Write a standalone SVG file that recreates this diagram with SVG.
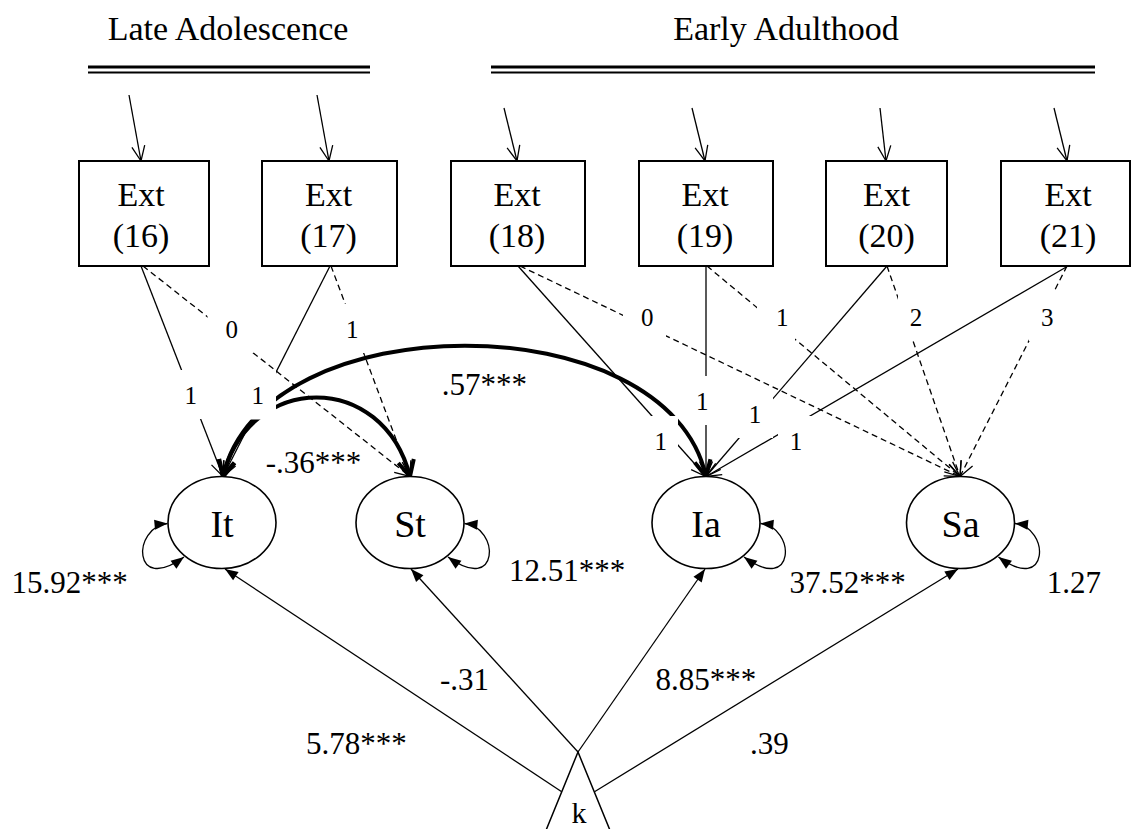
<svg xmlns="http://www.w3.org/2000/svg" width="1131" height="829" viewBox="0 0 1131 829">
<style>
text{font-family:"Liberation Serif","Times New Roman",serif;fill:#000}
.hdr{font-size:34px;text-anchor:middle}
.box{fill:#fff;stroke:#000;stroke-width:2}
.bt{font-size:34px;text-anchor:middle}
.lat{fill:#fff;stroke:#000;stroke-width:1.6}
.lt{font-size:38px;text-anchor:middle}
.ln{fill:none;stroke:#000;stroke-width:1.3}
.ds{stroke-dasharray:6 4}
.thick{fill:none;stroke:#000;stroke-width:4}
.mask{fill:#fff}
.lbl{font-size:25px;text-anchor:middle}
.est{font-size:31px}
.dbl{stroke:#000}
</style>
<defs>
<marker id="v" viewBox="-17 -8 19 16" refX="0" refY="0" markerWidth="19" markerHeight="16" orient="auto" markerUnits="userSpaceOnUse"><path d="M-15,-6.5 L0,0 L-15,6.5" fill="none" stroke="#000" stroke-width="1.3"/></marker>
<marker id="tv" viewBox="-21 -12 26 24" refX="0" refY="0" markerWidth="26" markerHeight="24" orient="auto-start-reverse" markerUnits="userSpaceOnUse"><path d="M-16,-8 L0,0 L-16,8" fill="none" stroke="#000" stroke-width="4"/></marker>
<marker id="f" viewBox="-14 -6 15 12" refX="0" refY="0" markerWidth="15" markerHeight="12" orient="auto-start-reverse" markerUnits="userSpaceOnUse"><path d="M-13,-5 L0,0 L-13,5 Z" fill="#000"/></marker>
</defs>
<rect width="1131" height="829" fill="#fff"/>

<g id="headers">
<text class="hdr" x="228" y="40">Late Adolescence</text>
<line class="dbl" x1="88" y1="67" x2="370" y2="67" stroke-width="3"/>
<line class="dbl" x1="88" y1="72.5" x2="370" y2="72.5" stroke-width="2.2"/>
<text class="hdr" x="786" y="40">Early Adulthood</text>
<line class="dbl" x1="491" y1="67" x2="1095" y2="67" stroke-width="3"/>
<line class="dbl" x1="491" y1="72.5" x2="1095" y2="72.5" stroke-width="2.2"/>
</g>

<g id="connectors">
<g id="error-arrows">
<line class="ln" x1="129" y1="95" x2="141" y2="161" marker-end="url(#v)"/>
<line class="ln" x1="317" y1="95" x2="329" y2="161" marker-end="url(#v)"/>
<line class="ln" x1="504" y1="108" x2="517" y2="161" marker-end="url(#v)"/>
<line class="ln" x1="692" y1="108" x2="705" y2="161" marker-end="url(#v)"/>
<line class="ln" x1="880" y1="108" x2="886" y2="161" marker-end="url(#v)"/>
<line class="ln" x1="1054" y1="108" x2="1067" y2="161" marker-end="url(#v)"/>
</g>
<g id="loadings">
<line class="ln" x1="141" y1="266" x2="223" y2="476.5" marker-end="url(#v)"/>
<line class="ln ds" x1="143" y1="266" x2="410" y2="476.5" marker-end="url(#v)"/>
<line class="ln" x1="330" y1="266" x2="223" y2="476.5" marker-end="url(#v)"/>
<line class="ln ds" x1="331" y1="266" x2="410" y2="476.5" marker-end="url(#v)"/>
<line class="ln" x1="518" y1="266" x2="706" y2="476.5" marker-end="url(#v)"/>
<line class="ln ds" x1="520" y1="266" x2="960" y2="476.5" marker-end="url(#v)"/>
<line class="ln" x1="706" y1="266" x2="706" y2="476.5" marker-end="url(#v)"/>
<line class="ln ds" x1="707" y1="266" x2="960" y2="476.5" marker-end="url(#v)"/>
<line class="ln" x1="887" y1="266" x2="706" y2="476.5" marker-end="url(#v)"/>
<line class="ln ds" x1="887" y1="266" x2="960" y2="476.5" marker-end="url(#v)"/>
<line class="ln" x1="1068" y1="266" x2="706" y2="476.5" marker-end="url(#v)"/>
<line class="ln ds" x1="1067" y1="266" x2="960" y2="476.5" marker-end="url(#v)"/>
</g>
<g id="k-paths">
<line class="ln" x1="561.7" y1="791.7" x2="225" y2="569" marker-end="url(#f)"/>
<line class="ln" x1="578" y1="752" x2="411" y2="569" marker-end="url(#f)"/>
<line class="ln" x1="578" y1="752" x2="705" y2="569" marker-end="url(#f)"/>
<line class="ln" x1="594.5" y1="791.7" x2="958" y2="569" marker-end="url(#f)"/>
</g>
<g id="variances">
<path class="ln" d="M167.5,523.5 C132,527 132,595 184,557" marker-start="url(#f)" marker-end="url(#f)"/>
<path class="ln" d="M464.5,523.5 C500,527 500,595 448,557" marker-start="url(#f)" marker-end="url(#f)"/>
<path class="ln" d="M760.5,523.5 C796,527 796,595 744,557" marker-start="url(#f)" marker-end="url(#f)"/>
<path class="ln" d="M1015,523.5 C1050,527 1050,595 998.5,557" marker-start="url(#f)" marker-end="url(#f)"/>
</g>
<g id="covariances">
<path class="thick" d="M223,476.5 C262,302 668,302 706,476.5" marker-start="url(#tv)" marker-end="url(#tv)"/>
<path class="thick" d="M223,476.5 C250,371 383,371 410,476.5" marker-start="url(#tv)" marker-end="url(#tv)"/>
</g>
</g>

<g id="loading-labels">
<rect class="mask" x="173" y="370" width="36" height="49"/><text class="lbl" x="190.7" y="404">1</text>
<rect class="mask" x="240" y="370.5" width="36" height="49"/><text class="lbl" x="257.7" y="404">1</text>
<rect class="mask" x="207.5" y="304" width="46" height="49"/><text class="lbl" x="231.7" y="338">0</text>
<rect class="mask" x="334" y="304" width="36" height="49"/><text class="lbl" x="352.3" y="338">1</text>
<rect class="mask" x="623" y="292" width="43" height="49"/><text class="lbl" x="647.3" y="326">0</text>
<rect class="mask" x="757" y="292" width="38" height="49"/><text class="lbl" x="782.3" y="326">1</text>
<rect class="mask" x="898" y="292" width="36" height="49"/><text class="lbl" x="916" y="326">2</text>
<rect class="mask" x="1029" y="292" width="36" height="49"/><text class="lbl" x="1047.3" y="326">3</text>
<rect class="mask" x="684" y="376" width="36" height="49"/><text class="lbl" x="702.3" y="410">1</text>
<rect class="mask" x="643" y="416" width="35" height="49"/><text class="lbl" x="660.7" y="450">1</text>
<rect class="mask" x="737" y="389" width="36" height="49"/><text class="lbl" x="755" y="422.7">1</text>
<rect class="mask" x="778" y="416" width="36" height="49"/><text class="lbl" x="796" y="450">1</text>
</g>

<g id="ext16"><rect class="box" x="79" y="161" width="130" height="105"/><text class="bt" x="141" y="206">Ext</text><text class="bt" x="141" y="246.5">(16)</text></g>
<g id="ext17"><rect class="box" x="262" y="161" width="135" height="105"/><text class="bt" x="328.5" y="206">Ext</text><text class="bt" x="328.5" y="246.5">(17)</text></g>
<g id="ext18"><rect class="box" x="451" y="161" width="134" height="105"/><text class="bt" x="517" y="206">Ext</text><text class="bt" x="517" y="246.5">(18)</text></g>
<g id="ext19"><rect class="box" x="639" y="161" width="134" height="105"/><text class="bt" x="705" y="206">Ext</text><text class="bt" x="705" y="246.5">(19)</text></g>
<g id="ext20"><rect class="box" x="826" y="161" width="121" height="105"/><text class="bt" x="886.5" y="206">Ext</text><text class="bt" x="886.5" y="246.5">(20)</text></g>
<g id="ext21"><rect class="box" x="1001" y="161" width="129" height="105"/><text class="bt" x="1068" y="206">Ext</text><text class="bt" x="1068" y="246.5">(21)</text></g>

<g id="It"><ellipse class="lat" cx="222" cy="522.5" rx="54" ry="46"/><text class="lt" x="222" y="537">It</text></g>
<g id="St"><ellipse class="lat" cx="410" cy="522.5" rx="54" ry="46"/><text class="lt" x="410" y="537">St</text></g>
<g id="Ia"><ellipse class="lat" cx="706" cy="522.5" rx="54" ry="46"/><text class="lt" x="706" y="537">Ia</text></g>
<g id="Sa"><ellipse class="lat" cx="960.5" cy="522.5" rx="54" ry="46"/><text class="lt" x="960.5" y="537">Sa</text></g>

<g id="k"><polygon points="578,752 540,845 616,845" fill="#fff" stroke="#000" stroke-width="1.5"/><text x="579" y="823" font-size="30" text-anchor="middle">k</text></g>

<g id="estimates">
<text class="est" x="441.7" y="395">.57***</text>
<text class="est" x="265.7" y="473">-.36***</text>
<text class="est" x="11.4" y="593">15.92***</text>
<text class="est" x="509" y="581">12.51***</text>
<text class="est" x="789.4" y="593">37.52***</text>
<text class="est" x="1046.7" y="593">1.27</text>
<text class="est" x="306" y="754">5.78***</text>
<text class="est" x="440" y="690">-.31</text>
<text class="est" x="655.4" y="690">8.85***</text>
<text class="est" x="750" y="754">.39</text>
</g>
</svg>
